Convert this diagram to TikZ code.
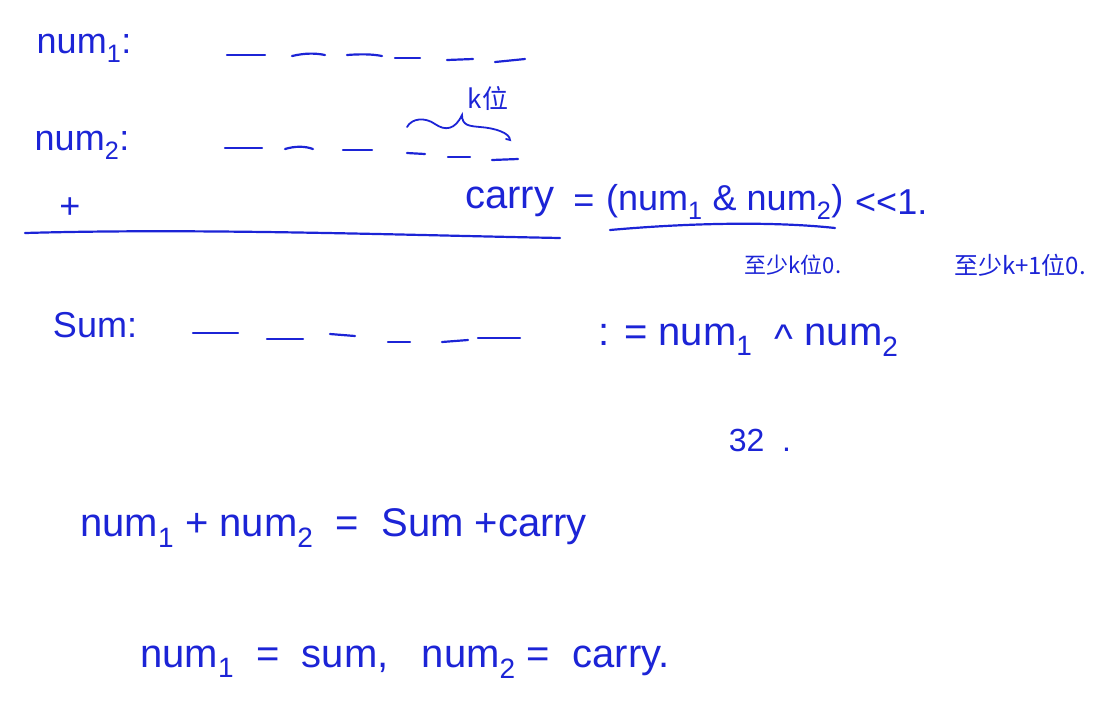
\documentclass[tikz,border=0pt]{standalone}
\usepackage{fontspec}
\setmainfont{Liberation Sans}
\newfontfamily\cjk{Noto Sans CJK SC}
\definecolor{inkblue}{RGB}{28,36,214}
\tikzset{
  ink/.style={text=inkblue, inner sep=0pt, font=\fontsize{36}{40}\selectfont},
  bigink/.style={text=inkblue, inner sep=0pt, font=\fontsize{40}{44}\selectfont},
  smallink/.style={text=inkblue, inner sep=0pt, font=\cjk\fontsize{22}{24}\selectfont},
  stroke/.style={draw=inkblue, line width=2.2pt, line cap=round},
}
\newcommand{\sbone}{\textsubscript{1}}
\newcommand{\sbtwo}{\textsubscript{2}}
\begin{document}
\begin{tikzpicture}[x=1pt,y=-1pt]
\useasboundingbox (0,0) rectangle (1106,724);
% row labels
\node[ink] (numone) at (84,48) {num\sbone:};
\node[ink] (numtwo) at (82,145) {num\sbtwo:};
\node[ink] (plus) at (70,208) {+};
\node[ink] (sumlbl) at (95,325) {Sum:};
% row 1 dashes
\draw[stroke] (227,55) -- (265,55);
\draw[stroke] (292,56) .. controls (305,53) and (315,53) .. (325,55);
\draw[stroke] (347,55) .. controls (360,54) and (372,54) .. (382,56);
\draw[stroke] (395,58) -- (420,58);
\draw[stroke] (447,60) -- (473,59);
\draw[stroke] (495,62) -- (525,59);
% row 2 dashes
\draw[stroke] (225,148) -- (262,148);
\draw[stroke] (285,149) .. controls (295,146) and (305,146) .. (313,149);
\draw[stroke] (343,150) -- (372,150);
\draw[stroke] (407,153) -- (425,154);
\draw[stroke] (448,157) -- (470,157);
\draw[stroke] (492,160) -- (518,159);
% brace and k label
\draw[stroke, line width=1.8pt] (407,127) .. controls (412,118) and (425,117) .. (435,124)
  .. controls (445,131) and (455,130) .. (462,115)
  .. controls (462,126) and (470,126) .. (480,127)
  .. controls (495,128) and (510,133) .. (510,140) -- (506,139);
\node[smallink, font=\cjk\fontsize{26}{28}\selectfont] (klbl) at (488,98) {k位};
% long underline
\draw[stroke] (25,233) .. controls (200,228) and (400,235) .. (560,238);
% carry equation
\node[bigink, anchor=west] (carry) at (465,202) {carry};
\node[ink] (eqone) at (584,204) {=};
\node[ink, anchor=west] (andexpr) at (606,202) {(num\sbone\ \& num\sbtwo)};
\node[ink, anchor=west] (shift) at (855,202) {<{}<1.};
\draw[stroke] (610,230) .. controls (700,222) and (780,222) .. (835,228);
% chinese notes
\node[smallink] (noteone) at (793,265) {至少k位0.};
\node[smallink, font=\cjk\fontsize{24}{26}\selectfont] (notetwo) at (1020,265) {至少k+1位0.};
% row 3 dashes
\draw[stroke] (193,333) -- (238,333);
\draw[stroke] (267,339) -- (303,339);
\draw[stroke] (330,334) -- (355,336);
\draw[stroke] (388,342) -- (410,342);
\draw[stroke] (442,342) -- (468,340);
\draw[stroke] (478,338) -- (520,338);
% xor equation
\node[bigink, anchor=west] (xoreq) at (598,340) {: = num\sbone\ \ \raisebox{-0.35ex}{\textasciicircum}\ num\sbtwo};
% 32
\node[ink, font=\fontsize{32}{34}\selectfont] (thirtytwo) at (760,440) {32\ \ .};
% bottom equations
\node[bigink, anchor=west] (sumeq) at (80,528) {num\sbone\ + num\sbtwo\ \ = \ Sum +carry};
\node[bigink, anchor=west] (assign) at (140,662) {num\sbone\ \ = \ sum,\ \ \ num\sbtwo\ = \ carry.};
\end{tikzpicture}
\end{document}
